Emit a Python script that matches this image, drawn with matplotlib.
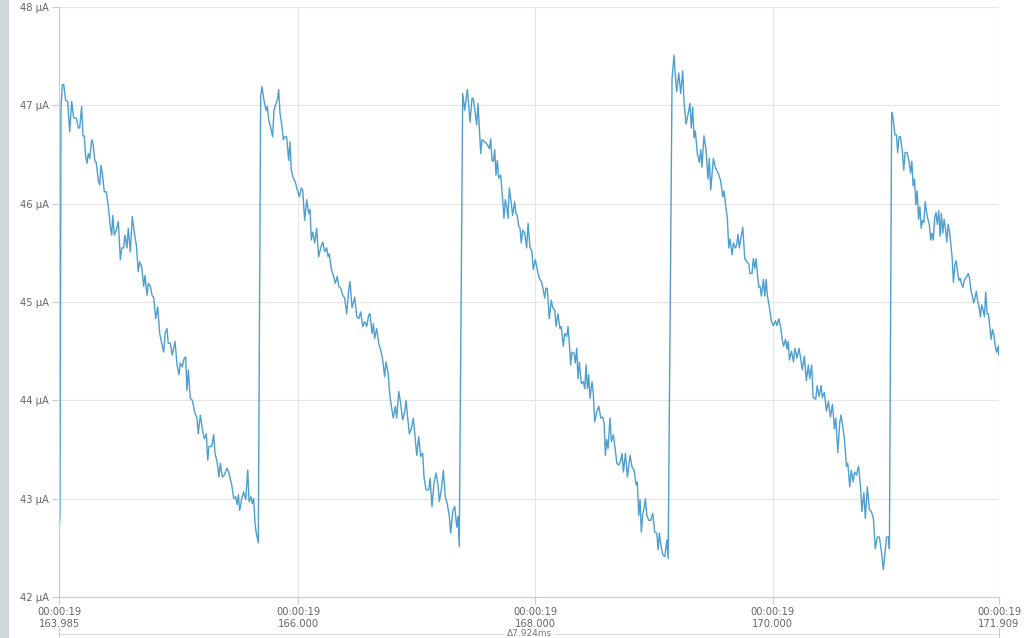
import matplotlib
matplotlib.use("Agg")
import matplotlib.pyplot as plt
from matplotlib.lines import Line2D
import numpy as np

# time in ms, current in uA, one ramp at a time
t1 = [163.985, 163.993, 164.002, 164.013, 164.025, 164.041, 164.058, 164.075, 164.092, 164.109,
      164.131, 164.148, 164.159, 164.176, 164.187, 164.198, 164.210, 164.221, 164.232, 164.244,
      164.261, 164.272, 164.288, 164.299, 164.316, 164.328, 164.339, 164.350, 164.367, 164.384,
      164.401, 164.417, 164.429, 164.438, 164.451, 164.468, 164.485, 164.502, 164.514, 164.530,
      164.541, 164.558, 164.569, 164.586, 164.603, 164.620, 164.637, 164.653, 164.665, 164.682,
      164.699, 164.710, 164.727, 164.738, 164.755, 164.771, 164.783, 164.800, 164.817, 164.834,
      164.851, 164.868, 164.879, 164.895, 164.906, 164.923, 164.940, 164.963, 164.980, 164.997,
      165.007, 165.024, 165.041, 165.053, 165.064, 165.075, 165.092, 165.109, 165.131, 165.148,
      165.159, 165.176, 165.193, 165.210, 165.227, 165.239, 165.249, 165.272, 165.289, 165.300,
      165.317, 165.334, 165.345, 165.362, 165.378, 165.401, 165.418, 165.441, 165.458, 165.475,
      165.486, 165.497, 165.508, 165.525, 165.542, 165.559, 165.576, 165.587, 165.604, 165.614,
      165.626, 165.637, 165.648, 165.665]
i1 = [42.65, 42.82, 46.98, 47.21, 47.21, 47.05, 47.04, 46.73, 47.04, 46.87,
      46.87, 46.77, 46.77, 46.99, 46.69, 46.69, 46.48, 46.41, 46.51, 46.46,
      46.65, 46.61, 46.43, 46.42, 46.24, 46.19, 46.39, 46.31, 46.12, 46.12,
      45.97, 45.77, 45.68, 45.88, 45.68, 45.73, 45.82, 45.43, 45.55, 45.55,
      45.68, 45.55, 45.75, 45.51, 45.87, 45.70, 45.58, 45.31, 45.41, 45.36,
      45.16, 45.27, 45.07, 45.19, 45.16, 45.06, 45.05, 44.83, 44.95, 44.68,
      44.58, 44.49, 44.68, 44.73, 44.58, 44.58, 44.46, 44.60, 44.36, 44.26,
      44.38, 44.34, 44.43, 44.44, 44.10, 44.31, 44.02, 44.00, 43.87, 43.82,
      43.66, 43.85, 43.71, 43.61, 43.66, 43.39, 43.53, 43.53, 43.65, 43.46,
      43.38, 43.22, 43.36, 43.22, 43.24, 43.31, 43.26, 43.14, 43.00, 43.02,
      42.94, 43.04, 42.88, 43.00, 43.07, 42.99, 43.29, 42.97, 43.02, 42.95,
      43.00, 42.75, 42.65, 42.55]

t2 = [165.685, 165.696, 165.713, 165.730, 165.741, 165.753, 165.770, 165.786, 165.797, 165.814,
      165.825, 165.837, 165.848, 165.865, 165.876, 165.888, 165.904, 165.921, 165.932, 165.943,
      165.960, 165.977, 165.994, 166.011, 166.027, 166.039, 166.056, 166.073, 166.090, 166.101,
      166.112, 166.124, 166.141, 166.157, 166.174, 166.191, 166.208, 166.225, 166.242, 166.253,
      166.264, 166.281, 166.298, 166.314, 166.331, 166.343, 166.360, 166.376, 166.393, 166.410,
      166.427, 166.438, 166.455, 166.478, 166.495, 166.512, 166.528, 166.545, 166.562, 166.579,
      166.596, 166.607, 166.624, 166.635, 166.646, 166.663, 166.680, 166.697, 166.714, 166.730,
      166.741, 166.758, 166.775, 166.792, 166.803, 166.820, 166.832, 166.849, 166.865, 166.882,
      166.899, 166.910, 166.921, 166.938, 166.955, 166.972, 166.989, 167.001, 167.017, 167.034,
      167.051, 167.062, 167.079, 167.102, 167.113, 167.129, 167.146, 167.163, 167.180, 167.191,
      167.208, 167.225, 167.241, 167.258, 167.275, 167.287, 167.304, 167.321, 167.338, 167.349,
      167.359]
i2 = [47.09, 47.19, 47.05, 46.95, 46.99, 46.85, 46.77, 46.68, 46.95, 47.02,
      47.05, 47.16, 46.92, 46.78, 46.65, 46.68, 46.68, 46.44, 46.63, 46.34,
      46.26, 46.22, 46.14, 46.07, 46.16, 46.14, 45.83, 46.04, 45.90, 45.94,
      45.63, 45.71, 45.60, 45.75, 45.46, 45.55, 45.61, 45.51, 45.55, 45.46,
      45.49, 45.33, 45.27, 45.19, 45.26, 45.16, 45.14, 45.07, 45.04, 44.88,
      45.12, 45.21, 44.94, 45.05, 44.85, 44.83, 44.90, 44.75, 44.80, 44.75,
      44.87, 44.88, 44.68, 44.78, 44.63, 44.73, 44.58, 44.51, 44.41, 44.24,
      44.39, 44.29, 44.04, 43.90, 43.82, 43.94, 43.82, 44.09, 43.97, 43.80,
      43.88, 44.00, 43.87, 43.66, 43.71, 43.82, 43.60, 43.44, 43.63, 43.43,
      43.46, 43.22, 43.09, 43.09, 43.21, 42.92, 43.16, 43.26, 43.14, 42.97,
      43.09, 43.29, 43.02, 42.95, 42.82, 42.65, 42.87, 42.92, 42.71, 42.82,
      42.51]

t3 = [167.388, 167.405, 167.427, 167.450, 167.466, 167.477, 167.494, 167.506, 167.517, 167.528,
      167.540, 167.551, 167.574, 167.596, 167.613, 167.624, 167.635, 167.646, 167.658, 167.669,
      167.680, 167.692, 167.708, 167.725, 167.736, 167.747, 167.759, 167.770, 167.781, 167.798,
      167.809, 167.826, 167.837, 167.848, 167.860, 167.871, 167.882, 167.894, 167.911, 167.927,
      167.939, 167.955, 167.972, 167.983, 168.000, 168.017, 168.034, 168.051, 168.068, 168.079,
      168.090, 168.101, 168.118, 168.135, 168.147, 168.164, 168.175, 168.191, 168.208, 168.219,
      168.236, 168.248, 168.265, 168.276, 168.287, 168.298, 168.309, 168.326, 168.337, 168.349,
      168.360, 168.371, 168.388, 168.405, 168.417, 168.428, 168.439, 168.450, 168.461, 168.478,
      168.489, 168.501, 168.518, 168.535, 168.552, 168.568, 168.580, 168.591, 168.602, 168.613,
      168.630, 168.641, 168.658, 168.675, 168.687, 168.704, 168.720, 168.731, 168.743, 168.760,
      168.777, 168.799, 168.816, 168.833, 168.850, 168.860, 168.872, 168.883, 168.894, 168.906,
      168.917, 168.928, 168.940, 168.957, 168.974, 168.990, 169.007, 169.024, 169.035, 169.046,
      169.058, 169.075, 169.092, 169.109, 169.120]
i3 = [47.12, 46.95, 47.16, 46.83, 47.07, 47.07, 46.92, 46.80, 47.02, 46.78,
      46.51, 46.65, 46.63, 46.60, 46.56, 46.66, 46.44, 46.43, 46.55, 46.29,
      46.44, 46.26, 46.29, 46.04, 45.85, 46.04, 45.97, 45.85, 46.16, 46.00,
      45.88, 46.02, 45.90, 45.88, 45.77, 45.75, 45.60, 45.73, 45.70, 45.55,
      45.80, 45.56, 45.51, 45.33, 45.43, 45.33, 45.24, 45.21, 45.12, 45.04,
      45.14, 45.14, 44.83, 45.02, 44.94, 44.92, 44.75, 44.88, 44.73, 44.75,
      44.55, 44.68, 44.65, 44.75, 44.58, 44.36, 44.49, 44.48, 44.38, 44.53,
      44.22, 44.39, 44.17, 44.19, 44.12, 44.36, 44.12, 44.26, 44.02, 44.19,
      44.07, 43.78, 43.88, 43.94, 43.82, 43.83, 43.77, 43.44, 43.60, 43.51,
      43.82, 43.58, 43.65, 43.49, 43.36, 43.34, 43.39, 43.46, 43.27, 43.46,
      43.22, 43.44, 43.32, 43.29, 43.14, 43.17, 42.83, 42.99, 42.66, 42.85,
      42.90, 43.00, 42.83, 42.78, 42.78, 42.85, 42.66, 42.65, 42.48, 42.65,
      42.53, 42.43, 42.41, 42.58, 42.39]

t4 = [169.153, 169.170, 169.180, 169.192, 169.209, 169.226, 169.243, 169.254, 169.271, 169.288,
      169.304, 169.315, 169.327, 169.338, 169.349, 169.366, 169.383, 169.395, 169.405, 169.422,
      169.439, 169.456, 169.467, 169.479, 169.501, 169.518, 169.529, 169.546, 169.563, 169.580,
      169.591, 169.608, 169.619, 169.631, 169.642, 169.659, 169.670, 169.687, 169.698, 169.709,
      169.720, 169.732, 169.749, 169.766, 169.783, 169.799, 169.810, 169.827, 169.838, 169.850,
      169.861, 169.872, 169.884, 169.895, 169.906, 169.923, 169.935, 169.946, 169.957, 169.974,
      169.991, 170.008, 170.025, 170.037, 170.053, 170.070, 170.081, 170.093, 170.110, 170.121,
      170.132, 170.143, 170.160, 170.177, 170.189, 170.206, 170.223, 170.234, 170.251, 170.268,
      170.285, 170.302, 170.313, 170.330, 170.342, 170.364, 170.376, 170.392, 170.409, 170.420,
      170.437, 170.454, 170.471, 170.488, 170.505, 170.522, 170.533, 170.550, 170.567, 170.578,
      170.595, 170.606, 170.623, 170.634, 170.651, 170.663, 170.680, 170.691, 170.708, 170.725,
      170.742, 170.753, 170.770, 170.782, 170.799, 170.816, 170.833, 170.850, 170.866, 170.883,
      170.900, 170.917, 170.934, 170.951, 170.962, 170.979, 170.985]
i4 = [47.28, 47.51, 47.31, 47.14, 47.33, 47.12, 47.35, 47.03, 46.81, 46.91,
      47.02, 46.77, 46.98, 46.67, 46.74, 46.51, 46.42, 46.55, 46.37, 46.69,
      46.55, 46.25, 46.46, 46.14, 46.46, 46.37, 46.34, 46.30, 46.23, 46.07,
      46.13, 45.95, 45.85, 45.55, 45.64, 45.48, 45.60, 45.55, 45.58, 45.69,
      45.55, 45.64, 45.76, 45.44, 45.41, 45.39, 45.29, 45.29, 45.44, 45.34,
      45.44, 45.29, 45.15, 45.16, 45.06, 45.23, 45.06, 45.23, 45.06, 44.94,
      44.80, 44.76, 44.81, 44.76, 44.83, 44.73, 44.62, 44.55, 44.62, 44.52,
      44.60, 44.41, 44.50, 44.39, 44.53, 44.43, 44.53, 44.45, 44.31, 44.45,
      44.20, 44.36, 44.22, 44.36, 44.03, 44.01, 44.15, 44.04, 44.15, 44.03,
      44.08, 43.89, 43.99, 43.83, 43.96, 43.71, 43.82, 43.47, 43.78, 43.85,
      43.71, 43.61, 43.33, 43.36, 43.12, 43.29, 43.17, 43.27, 43.24, 43.33,
      43.12, 42.87, 43.06, 42.80, 43.12, 42.89, 42.87, 42.80, 42.49, 42.61,
      42.61, 42.47, 42.28, 42.49, 42.61, 42.61, 42.49]

t5 = [171.004, 171.015, 171.032, 171.044, 171.055, 171.066, 171.078, 171.095, 171.106, 171.117,
      171.134, 171.151, 171.163, 171.174, 171.185, 171.197, 171.208, 171.219, 171.231, 171.242,
      171.253, 171.265, 171.276, 171.287, 171.299, 171.310, 171.321, 171.333, 171.344, 171.355,
      171.367, 171.378, 171.389, 171.401, 171.412, 171.423, 171.435, 171.446, 171.457, 171.469,
      171.480, 171.491, 171.503, 171.514, 171.525, 171.537, 171.548, 171.559, 171.571, 171.582,
      171.593, 171.605, 171.616, 171.627, 171.639, 171.650, 171.661, 171.673, 171.684, 171.695,
      171.707, 171.718, 171.729, 171.741, 171.752, 171.763, 171.775, 171.786, 171.797, 171.809,
      171.820, 171.831, 171.843, 171.854, 171.865, 171.877, 171.888, 171.899, 171.907, 171.909]
i5 = [46.93, 46.88, 46.70, 46.70, 46.52, 46.68, 46.68, 46.52, 46.34, 46.52,
      46.52, 46.43, 46.31, 46.43, 46.18, 46.25, 45.99, 46.13, 45.84, 45.97,
      45.75, 45.83, 45.81, 46.02, 45.91, 45.84, 45.79, 45.63, 45.70, 45.63,
      45.86, 45.91, 45.79, 45.93, 45.67, 45.90, 45.70, 45.84, 45.75, 45.61,
      45.79, 45.72, 45.59, 45.45, 45.20, 45.38, 45.42, 45.31, 45.22, 45.24,
      45.18, 45.15, 45.22, 45.24, 45.26, 45.29, 45.24, 45.11, 45.06, 44.99,
      45.04, 45.11, 45.01, 44.95, 44.85, 44.97, 44.92, 44.85, 45.10, 44.88,
      44.88, 44.76, 44.62, 44.72, 44.67, 44.56, 44.49, 44.54, 44.46, 44.56]

x_ticks = [163.985, 166.000, 168.000, 170.000, 171.909]
x_ticklabels = ["00:00:19\n163.985", "00:00:19\n166.000", "00:00:19\n168.000",
                "00:00:19\n170.000", "00:00:19\n171.909"]
y_ticks = [42, 43, 44, 45, 46, 47, 48]
y_ticklabels = ["%d µA" % v for v in y_ticks]
span_label = "Δ7.924ms"

t = np.concatenate([t1, t2, t3, t4, t5])
cur = np.concatenate([i1, i2, i3, i4, i5])

fig = plt.figure(figsize=(10.24, 6.38), dpi=100)
ax = fig.add_axes([59 / 1024, 1 - 597 / 638, 940 / 1024, 590 / 638])

ax.plot(t, cur, color="#4d9fcf", lw=1.0)

ax.set_xlim(x_ticks[0], x_ticks[-1])
ax.set_ylim(42, 48)
ax.set_xticks(x_ticks)
ax.set_xticklabels(x_ticklabels, fontsize=7.2, color="#666666", linespacing=1.25)
ax.set_yticks(y_ticks)
ax.set_yticklabels(y_ticklabels, fontsize=7.2, color="#666666")
ax.tick_params(axis="both", length=5, width=0.8, color="#cccccc", pad=2)
ax.grid(True, color="#e6e6e6", lw=0.8)
ax.set_axisbelow(True)
for side in ["top", "right"]:
    ax.spines[side].set_visible(False)
for side in ["left", "bottom"]:
    ax.spines[side].set_color("#cccccc")
    ax.spines[side].set_linewidth(0.8)

# grey strip on the far left
fig.patches.append(plt.Rectangle((0, 0), 8 / 1024, 1, transform=fig.transFigure,
                                 color="#cfd8dc", zorder=0))

# span bracket under the axis
yb = 1 - 634 / 638
x0, x1 = 59 / 1024, 999 / 1024
fig.add_artist(Line2D([x0, x1], [yb, yb], color="#dddddd", lw=0.8))
fig.add_artist(Line2D([x0, x0], [0, 1 - 628 / 638], color="#cccccc", lw=0.8))
fig.add_artist(Line2D([x1, x1], [0, 1 - 628 / 638], color="#cccccc", lw=0.8))
fig.text((x0 + x1) / 2, yb, span_label, ha="center", va="center", fontsize=6.5,
         color="#777777", bbox=dict(facecolor="white", edgecolor="none", pad=2))

fig.savefig("out.png", dpi=100)
